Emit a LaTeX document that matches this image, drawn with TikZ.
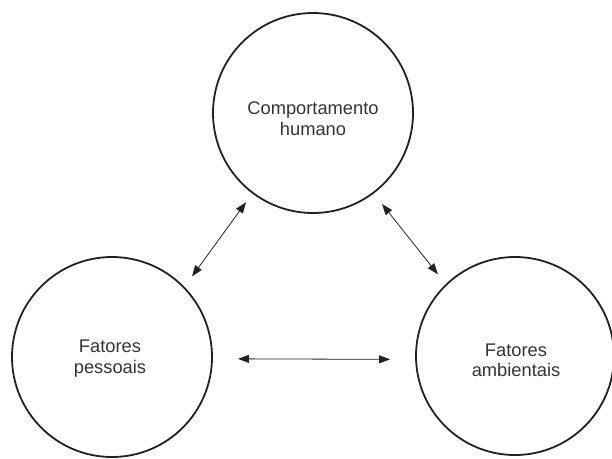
\documentclass[tikz,border=0pt]{standalone}
\usepackage{fontspec}
\setmainfont{Liberation Sans}
\usetikzlibrary{arrows.meta}
\definecolor{ink}{HTML}{222222}
\definecolor{txt}{HTML}{333333}
\tikzset{
  bubble/.style={circle, draw=ink, line width=1.8pt, minimum size=200pt, inner sep=0pt, outer sep=0pt},
  label text/.style={text=txt, align=center, font=\fontsize{18.3}{20.5}\selectfont},
  link/.style={draw=ink, line width=0.8pt, {Triangle[length=11pt,width=8pt]}-{Triangle[length=11pt,width=8pt]}}
}
\begin{document}
\begin{tikzpicture}[x=1pt,y=-1pt]
\useasboundingbox (0,0) rectangle (612,458);
\node[bubble] (top) at (313,113) {};
\node[bubble] (left) at (112,357) {};
\node[bubble, minimum size=198pt] (right) at (515,356) {};
\node[label text] (ttop) at (313,118.5) {Comportamento\\humano};
\node[label text] (tleft) at (110,358.5) {Fatores\\pessoais};
\node[label text] (tright) at (516,360.5) {Fatores\\ambientais};
\draw[link, shorten <=11.6pt, shorten >=13.8pt] (top.233.7) -- (left.44.6);
\draw[link, shorten <=14.2pt, shorten >=13.4pt] (top.307.2) -- (right.134.6);
\draw[link, shorten <=26pt, shorten >=26pt] (left.-1.8) -- (right.182.3);
\end{tikzpicture}
\end{document}
